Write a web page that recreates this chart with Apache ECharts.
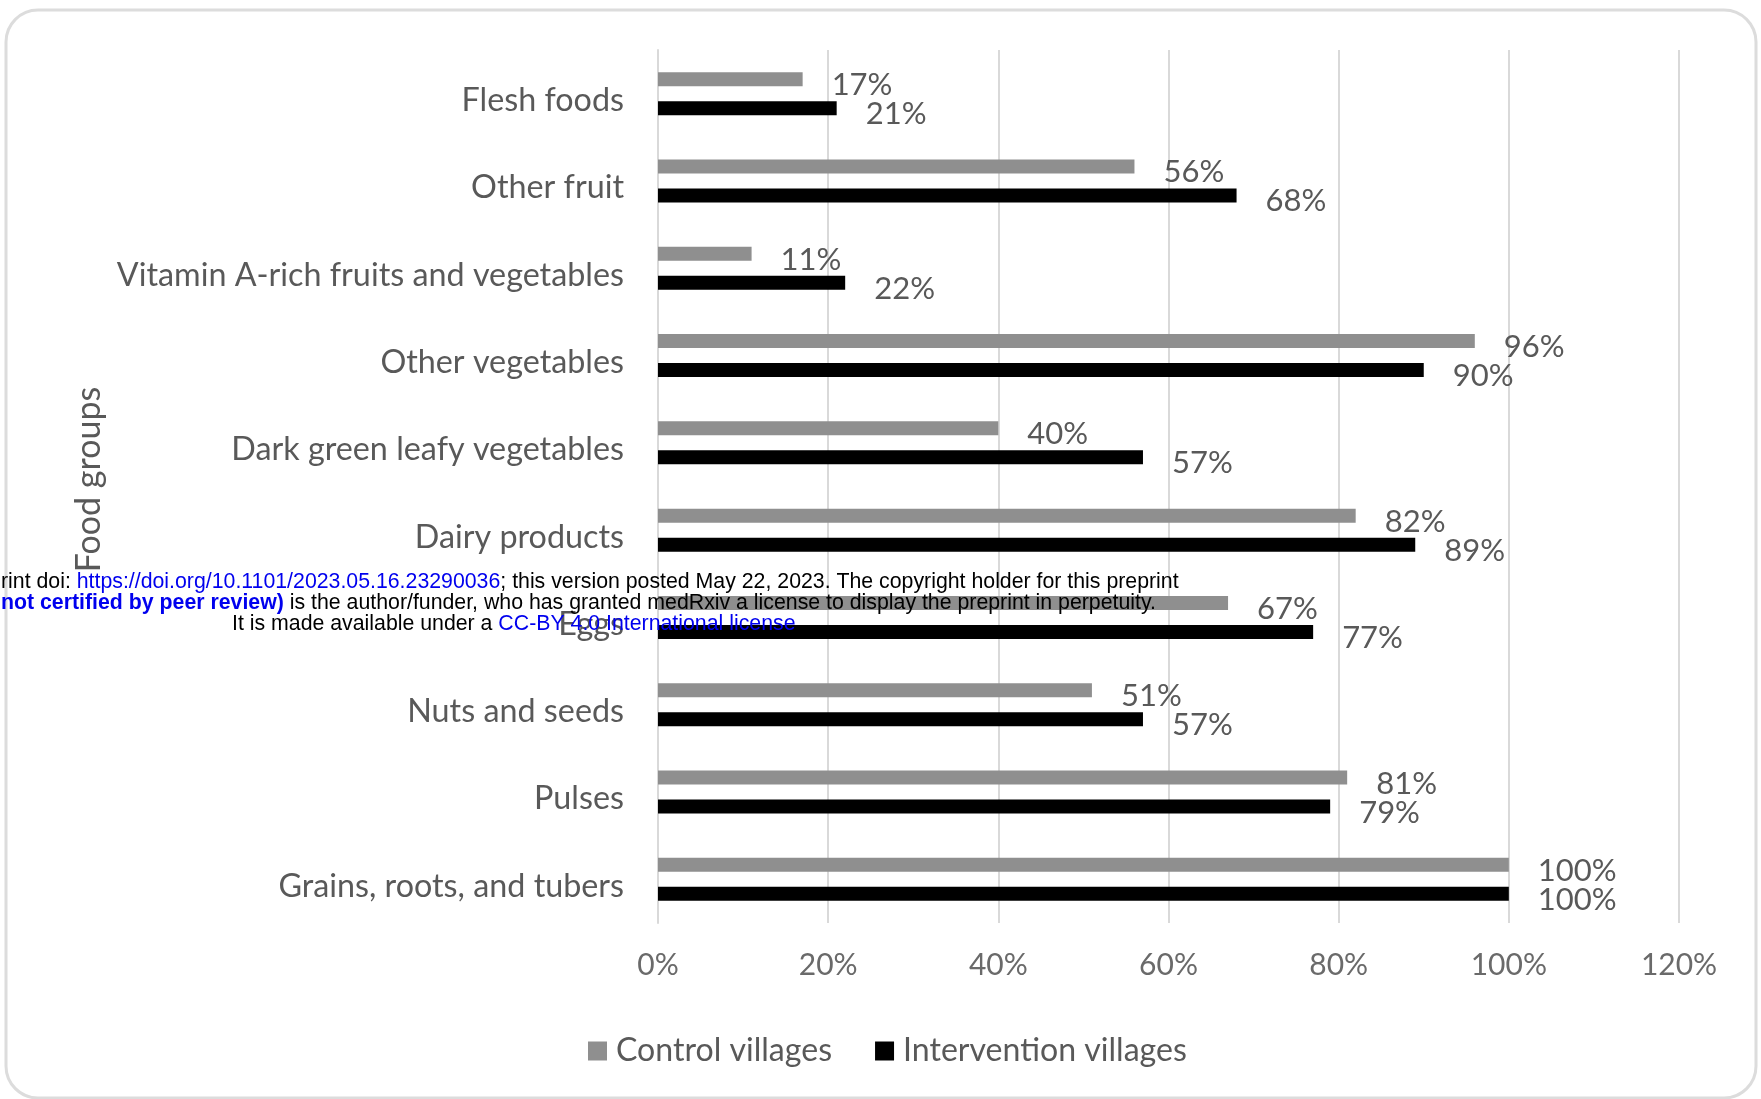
<!DOCTYPE html>
<html>
<head>
<meta charset="utf-8">
<script src="https://cdn.jsdelivr.net/npm/echarts@6/dist/echarts.min.js"></script>
<style>
html,body{margin:0;padding:0;background:#fff;}
#chart{width:1761px;height:1099px;}
</style>
</head>
<body>
<div id="chart"></div>
<script>
const categories = [
  'Flesh foods',
  'Other fruit',
  'Vitamin A-rich fruits and vegetables',
  'Other vegetables',
  'Dark green leafy vegetables',
  'Dairy products',
  'Eggs',
  'Nuts and seeds',
  'Pulses',
  'Grains, roots, and tubers'
];
const controlValues = [17, 56, 11, 96, 40, 82, 67, 51, 81, 100];
const interventionValues = [21, 68, 22, 90, 57, 89, 77, 57, 79, 100];
const seriesNames = ['Control villages', 'Intervention villages'];
const xTicks = { min: 0, max: 120, interval: 20 };
const axisTitle = 'Food groups';

const FONT = 'Lato';
const TXT = '#595959';

const chart = echarts.init(document.getElementById('chart'));
const labelCfg = {
  show: true,
  position: 'right',
  distance: 29,
  offset: [0, 6],
  formatter: p => p.value + '%',
  fontFamily: FONT,
  fontSize: 31,
  color: TXT
};
chart.setOption({
  animation: false,
  backgroundColor: '#fff',
  grid: { left: 658, right: 82, top: 50, bottom: 176, containLabel: false },
  legend: {
    data: seriesNames,
    top: 1030,
    left: 583,
    icon: 'rect',
    itemWidth: 19,
    itemHeight: 19,
    itemGap: 43,
    textStyle: { fontFamily: FONT, fontSize: 32.1, color: TXT, padding: [0, 0, 0, 4] }
  },
  xAxis: {
    type: 'value',
    min: xTicks.min,
    max: xTicks.max,
    interval: xTicks.interval,
    axisLine: { show: false },
    axisTick: { show: false },
    splitLine: { show: true, lineStyle: { color: '#d9d9d9', width: 2 } },
    axisLabel: { formatter: '{value}%', fontFamily: FONT, fontSize: 30, color: '#6a6a6a', margin: 27 }
  },
  yAxis: {
    type: 'category',
    data: categories,
    inverse: true,
    name: axisTitle,
    nameLocation: 'middle',
    nameGap: 552,
    nameTextStyle: { fontFamily: FONT, fontSize: 34, color: TXT, padding: [0, 0, 0, 14] },
    axisLine: { show: true, lineStyle: { color: '#d9d9d9', width: 2 } },
    axisTick: { show: false },
    axisLabel: { fontFamily: FONT, fontSize: 32.3, color: TXT, margin: 34, verticalAlign: 'top', lineHeight: 14 }
  },
  series: [
    {
      name: seriesNames[0],
      type: 'bar',
      data: controlValues,
      barWidth: 14,
      barGap: '107%',
      itemStyle: { color: '#8f8f8f' },
      label: labelCfg
    },
    {
      name: seriesNames[1],
      type: 'bar',
      data: interventionValues,
      barWidth: 14,
      barGap: '107%',
      itemStyle: { color: '#000000' },
      label: labelCfg
    }
  ],
  graphic: [
    {
      type: 'rect',
      z: -10,
      shape: { x: 6, y: 10, width: 1750, height: 1088, r: 32 },
      style: { fill: 'none', stroke: '#dcdcdc', lineWidth: 3 }
    },
    {
      type: 'text',
      z: 100,
      x: 1, y: 582,
      style: {
        text: '{k|rint doi: }{b|https://doi.org/10.1101/2023.05.16.23290036}{k|; this version posted May 22, 2023. The copyright holder for this preprint}',
        verticalAlign: 'middle',
        rich: {
          k: { fontFamily: 'Liberation Sans', fontSize: 21.3, fill: '#000' },
          b: { fontFamily: 'Liberation Sans', fontSize: 21.3, fill: '#0000ee' }
        }
      }
    },
    {
      type: 'text',
      z: 100,
      x: 1, y: 603,
      style: {
        text: '{bb|not certified by peer review)}{k| is the author/funder, who has granted medRxiv a license to display the preprint in perpetuity.}',
        verticalAlign: 'middle',
        rich: {
          k: { fontFamily: 'Liberation Sans', fontSize: 21.3, fill: '#000' },
          bb: { fontFamily: 'Liberation Sans', fontSize: 21.3, fontWeight: 'bold', fill: '#0000ee' }
        }
      }
    },
    {
      type: 'text',
      z: 100,
      x: 232, y: 624,
      style: {
        text: '{k|It is made available under a }{b|CC-BY 4.0 International license}',
        verticalAlign: 'middle',
        rich: {
          k: { fontFamily: 'Liberation Sans', fontSize: 21.3, fill: '#000' },
          b: { fontFamily: 'Liberation Sans', fontSize: 21.3, fill: '#0000ee' }
        }
      }
    }
  ]
});
</script>
</body>
</html>
